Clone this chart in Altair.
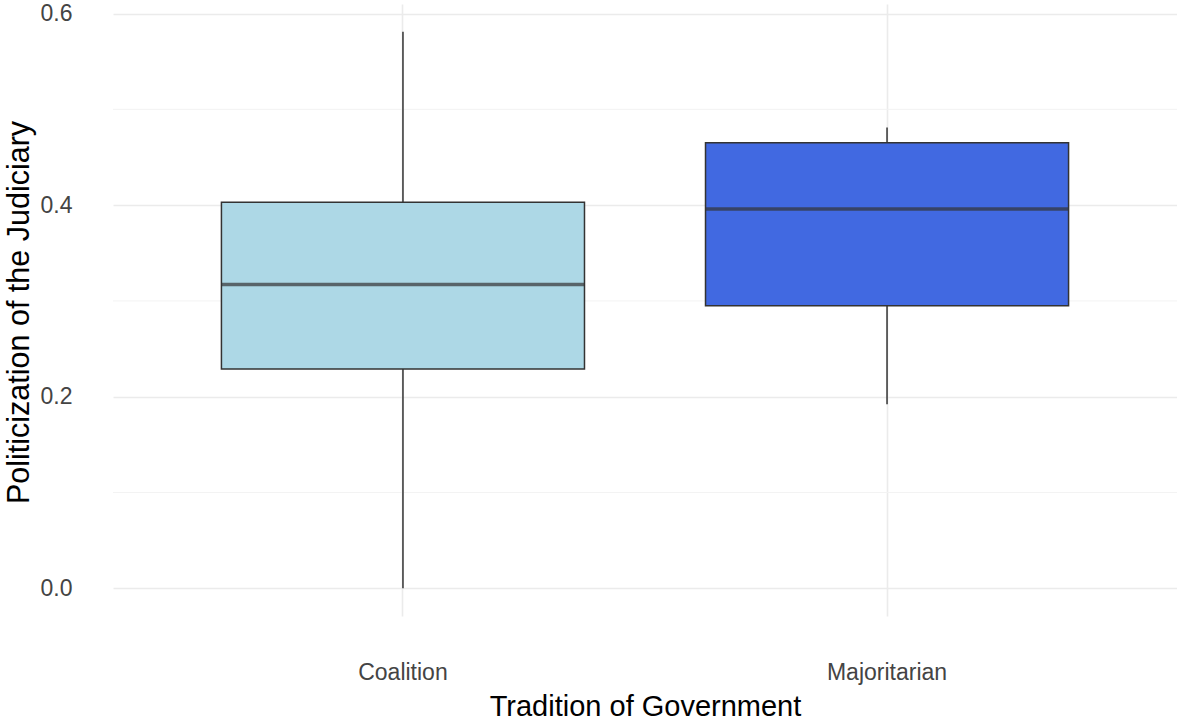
import altair as alt
import pandas as pd

groups = ["Coalition", "Majoritarian"]
lower_whisker = [0.0, 0.192]
q1 = [0.229, 0.295]
median = [0.317, 0.396]
q3 = [0.403, 0.465]
upper_whisker = [0.581, 0.481]
fills = ["#ADD8E6", "#4169E1"]

minor_grid = [0.1, 0.3, 0.5]
major_ticks = [0.0, 0.2, 0.4, 0.6]

df = pd.DataFrame({
    "group": groups,
    "lo": lower_whisker,
    "q1": q1,
    "med": median,
    "q3": q3,
    "hi": upper_whisker,
})
minor_df = pd.DataFrame({"v": minor_grid})

FONT = "Liberation Sans"

x_scale = alt.Scale(domain=groups, paddingInner=0.25, paddingOuter=0.224)
y_scale = alt.Scale(domain=[-0.029, 0.610], nice=False, zero=False)

x_enc = alt.X(
    "group:N",
    scale=x_scale,
    sort=groups,
    axis=alt.Axis(
        title="Tradition of Government",
        labelAngle=0,
        labelFontSize=23,
        labelColor="#444444",
        labelFont=FONT,
        labelPadding=45,
        grid=True,
        gridColor="#EBEBEB",
        gridWidth=1.6,
        bandPosition=0.5,
        domain=False,
        ticks=False,
        titleFont=FONT,
        titleFontSize=29,
        titleFontWeight="normal",
        titleColor="#000000",
        titleX=532,
        titleY=99,
        titleBaseline="alphabetic",
    ),
)

y_axis = alt.Axis(
    title="Politicization of the Judiciary",
    values=major_ticks,
    format=".1f",
    labelFontSize=23,
    labelColor="#444444",
    labelFont=FONT,
    labelPadding=41,
    grid=True,
    gridColor="#EBEBEB",
    gridWidth=1.6,
    domain=False,
    ticks=False,
    titleFont=FONT,
    titleFontSize=30.5,
    titleFontWeight="normal",
    titleColor="#000000",
    titleAngle=270,
    titleX=-85,
    titleY=308,
    titleBaseline="alphabetic",
    titleAlign="center",
)

minor = alt.Chart(minor_df).mark_rule(color="#F3F3F3", strokeWidth=1).encode(
    y=alt.Y("v:Q", scale=y_scale, axis=y_axis)
)

whisker = alt.Chart(df).mark_rule(color="#333333", strokeWidth=1.5).encode(
    x=x_enc,
    y=alt.Y("lo:Q", scale=y_scale),
    y2="hi:Q",
)

box = alt.Chart(df).mark_bar(stroke="#333333", strokeWidth=1.5).encode(
    x=alt.X("group:N", scale=x_scale, sort=groups),
    y=alt.Y("q1:Q", scale=y_scale),
    y2="q3:Q",
    color=alt.Color("group:N", scale=alt.Scale(domain=groups, range=fills), legend=None),
)

med = alt.Chart(df).mark_tick(color="#333333", thickness=3.5, size=363).encode(
    x=alt.X("group:N", scale=x_scale, sort=groups),
    y=alt.Y("med:Q", scale=y_scale),
)

chart = alt.layer(minor, whisker, box, med).properties(
    width=1064,
    height=612,
    autosize=alt.AutoSizeParams(type="none"),
    padding={"left": 113, "top": 4, "right": 0, "bottom": 104},
    background="white",
).configure_view(stroke=None)

chart.save("out.html", embed_options={"renderer": "svg", "actions": False})
